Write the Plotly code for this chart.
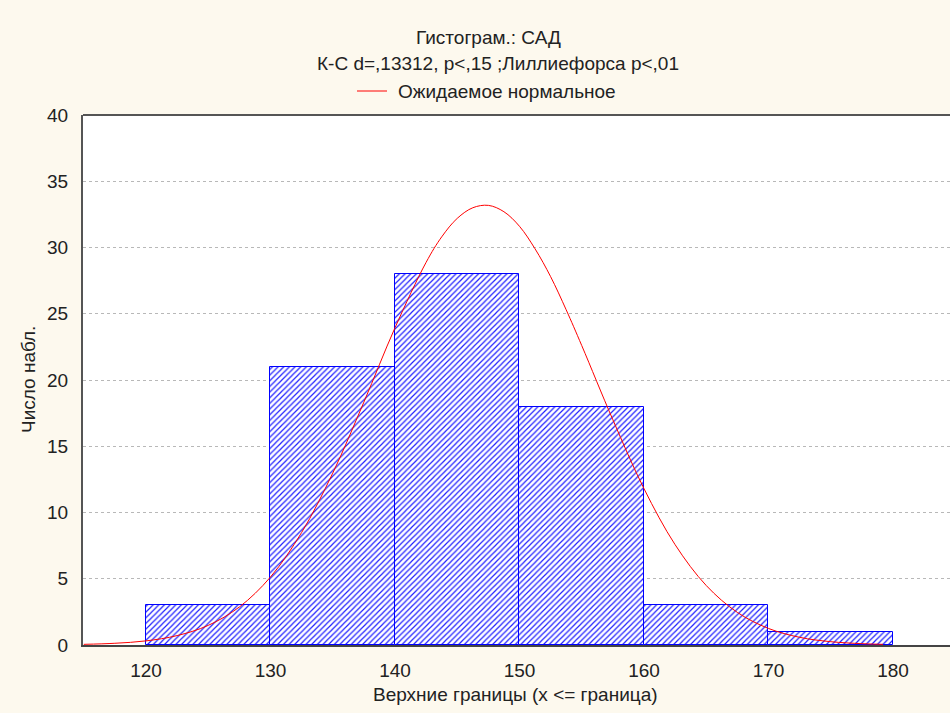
import plotly.graph_objects as go

# Histogram data (upper bin bounds and counts)
bin_centers = [125, 135, 145, 155, 165, 175]
counts = [3, 21, 28, 18, 3, 1]
bin_width = 10

# Expected normal curve
curve_x = [115, 117.5, 120, 122.5, 125, 127.5, 130, 132.5, 135, 137.5, 140, 142.5,
           143.75, 145, 146.25, 147.5, 148.75, 150, 151.25, 152.5, 153.75, 155, 157.5,
           160, 162.5, 165, 167.5, 170, 172.5, 175, 177.5, 179.2]
curve_y = [0.05, 0.13, 0.31, 0.71, 1.48, 2.87, 5.13, 8.49, 12.97, 18.33, 23.94, 28.88,
           30.8, 32.2, 33.0, 33.18, 32.7, 31.6, 29.9, 27.8, 25.3, 22.6, 17.0,
           11.8, 7.57, 4.49, 2.46, 1.25, 0.58, 0.25, 0.10, 0.05]

x_ticks = [120, 130, 140, 150, 160, 170, 180]
y_ticks = [0, 5, 10, 15, 20, 25, 30, 35, 40]

title1 = "Гистограм.: САД"
title2 = "К-С d=,13312, p<,15 ;Лиллиефорса p<,01"
legend_name = "Ожидаемое нормальное"
x_title = "Верхние границы (x <= граница)"
y_title = "Число набл."

FONT = "Liberation Sans, Arial, sans-serif"
TXT = "#222222"
FS = 19
W, H = 950, 713
L, R, T, B = 83, 0, 115, 68
PW, PH = W - L - R, H - T - B


def px(xp):
    return (xp - L) / PW


def py(yp):
    return (H - B - yp) / PH


fig = go.Figure()
fig.add_trace(go.Bar(
    x=bin_centers, y=counts, width=bin_width,
    marker=dict(color="white",
                line=dict(color="#0000ff", width=1),
                pattern=dict(shape="/", fgcolor="#2020ff", bgcolor="white",
                             size=4, solidity=0.3, fillmode="replace")),
    showlegend=False, hoverinfo="skip"))
fig.add_trace(go.Scatter(
    x=curve_x, y=curve_y, mode="lines", line=dict(color="#ff0000", width=1, shape="spline"),
    showlegend=False, name=legend_name))

fig.update_layout(
    width=W, height=H,
    margin=dict(l=L, r=R, t=T, b=B, pad=0),
    paper_bgcolor="#fdf9ee", plot_bgcolor="white",
    font=dict(family=FONT, size=FS, color=TXT),
    bargap=0,
    xaxis=dict(range=[114.94, 184.58], tickvals=x_ticks, showgrid=False, zeroline=False,
               showline=True, linecolor="#444444", linewidth=2, ticks="",
               ticklabelstandoff=7, tickfont=dict(size=FS, color=TXT)),
    yaxis=dict(range=[0, 40], tickvals=y_ticks, showgrid=True, gridcolor="#b8b8b8",
               griddash="dot", gridwidth=1, zeroline=False, showline=True,
               linecolor="#555555", linewidth=2, ticks="", ticklabelstandoff=9,
               tickfont=dict(size=FS, color=TXT)),
    shapes=[
        dict(type="line", xref="paper", yref="paper", x0=0, x1=1, y0=1, y1=1,
             line=dict(color="#555555", width=2)),
        dict(type="line", xref="paper", yref="paper", x0=px(357), x1=px(387),
             y0=py(91), y1=py(91), line=dict(color="#ff0000", width=1)),
    ],
    annotations=[
        dict(text=title1, xref="paper", yref="paper", x=px(488), y=py(38),
             showarrow=False, xanchor="center", yanchor="middle", font=dict(size=FS)),
        dict(text=title2, xref="paper", yref="paper", x=px(498), y=py(64),
             showarrow=False, xanchor="center", yanchor="middle", font=dict(size=FS)),
        dict(text=legend_name, xref="paper", yref="paper", x=px(396), y=py(91),
             showarrow=False, xanchor="left", yanchor="middle", font=dict(size=FS)),
        dict(text=x_title, xref="paper", yref="paper", x=px(515), y=py(694),
             showarrow=False, xanchor="center", yanchor="middle", font=dict(size=FS)),
        dict(text=y_title, xref="paper", yref="paper", x=px(28), y=py(380),
             showarrow=False, xanchor="center", yanchor="middle", textangle=-90,
             font=dict(size=FS)),
    ],
)

fig.write_html("out.html",
               config={"displayModeBar": False},
               post_script="document.body.style.margin='0px';"
                           "document.body.style.overflow='hidden';"
                           "document.documentElement.style.overflow='hidden';")
